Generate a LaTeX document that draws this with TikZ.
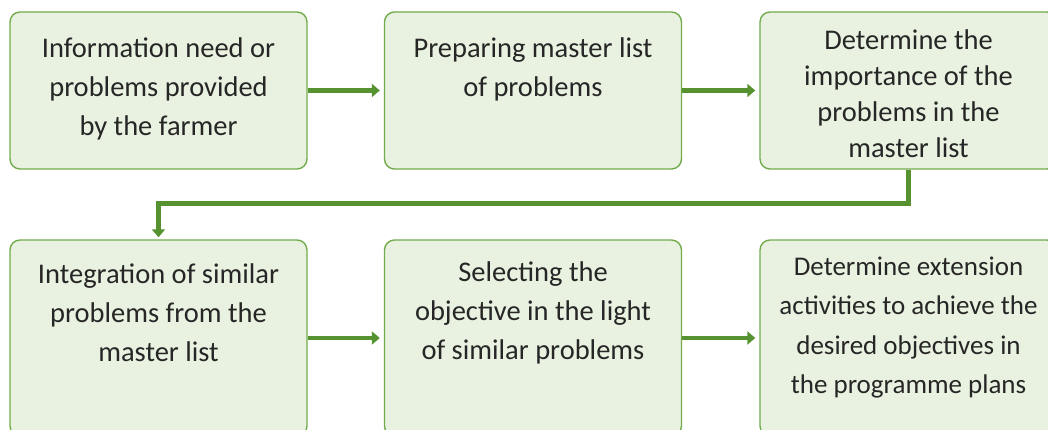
\documentclass[tikz,border=0pt]{standalone}
\usepackage{fontspec}
\setmainfont{Carlito}
\usetikzlibrary{arrows.meta}
\definecolor{boxfill}{HTML}{E9F2E0}
\definecolor{boxline}{HTML}{72AC4D}
\definecolor{flow}{HTML}{56922F}
\definecolor{ink}{HTML}{262626}
\tikzset{
  stepbox/.style={draw=boxline, line width=1.4pt, fill=boxfill, rounded corners=10pt,
    minimum width=297pt, inner sep=0pt},
  toprow/.style={stepbox, minimum height=157pt},
  botrow/.style={stepbox, minimum height=196pt},
  label/.style={text=ink, align=center, inner sep=0pt, font=\fontsize{28.5}{39}\selectfont},
  flowline/.style={draw=flow, line width=4.5pt, -{Triangle[length=8pt,width=13pt]}, shorten >=4pt}
}
\begin{document}
\begin{tikzpicture}[x=1pt,y=-1pt]
\useasboundingbox (0,0) rectangle (1048,430);
\clip (0,0) rectangle (1048,430);
\fill[white] (0,0) rectangle (1048,430);

% top row of steps
\node[toprow] (b1) at (158.5,90.5) {};
\node[toprow] (b2) at (533,90.5) {};
\node[toprow] (b3) at (908.5,90.5) {};
% bottom row of steps
\node[botrow] (b4) at (158.5,338) {};
\node[botrow] (b5) at (533,338) {};
\node[botrow] (b6) at (908.5,338) {};

% step texts
\node[label] (t1) at (158.5,89) {Information need or\\problems provided\\by the farmer};
\node[label] (t2) at (533,69.5) {Preparing master list\\of problems};
\node[label, font=\fontsize{28.5}{36}\selectfont] (t3) at (908.5,93.5) {Determine the\\importance of the\\problems in the\\master list};
\node[label] (t4) at (158.5,313) {Integration of similar\\problems from the\\master list};
\node[label] (t5) at (533,313) {Selecting the\\objective in the light\\of similar problems};
\node[label, font=\fontsize{27}{39.5}\selectfont] (t6) at (908.5,327.5) {Determine extension\\activities to achieve the\\desired objectives in\\the programme plans};

% connectors
\draw[flowline] (b1.east) -- (b2.west);
\draw[flowline] (b2.east) -- (b3.west);
\draw[flowline, shorten >=2pt] (b3.south) -- ++(0,34) -| (b4.north);
\draw[flowline] (b4.east) -- (b5.west);
\draw[flowline] (b5.east) -- (b6.west);
\end{tikzpicture}
\end{document}
